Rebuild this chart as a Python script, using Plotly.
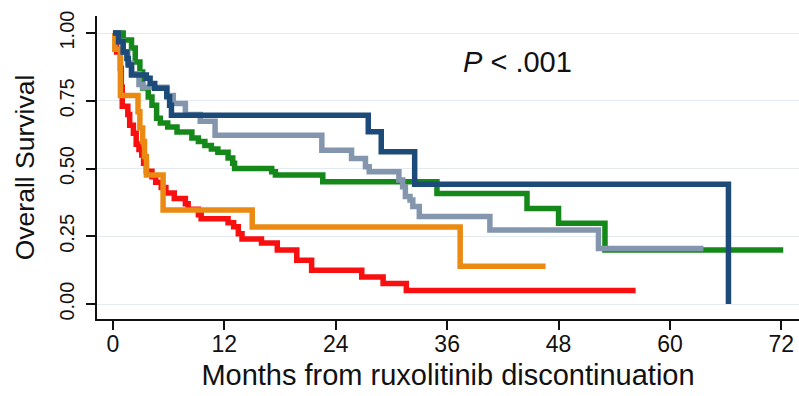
import plotly.graph_objects as go

# Kaplan-Meier step curves: (months, overall survival) at each step
months_red = [0, 0.4, 0.8, 0.9, 1.0, 1.6, 1.8, 2.2, 2.5, 2.8, 3.1, 3.3, 3.6, 4.2, 4.6, 5.2, 5.7,
              6.6, 7.8, 8.1, 9.2, 9.5, 12.4, 13.0, 13.5, 13.9, 16.0, 17.7, 19.8, 21.4, 26.8,
              29.1, 31.6, 56.3]
surv_red = [1.0, 0.93, 0.87, 0.80, 0.73, 0.70, 0.66, 0.63, 0.59, 0.57, 0.55, 0.52, 0.49, 0.47,
            0.45, 0.43, 0.41, 0.39, 0.37, 0.35, 0.33, 0.315, 0.30, 0.285, 0.26, 0.24, 0.225,
            0.20, 0.162, 0.125, 0.10, 0.076, 0.05, 0.05]

months_orange = [0, 0.2, 0.8, 2.7, 2.9, 3.2, 3.4, 3.6, 5.4, 15.0, 37.4, 46.6]
surv_orange = [1.0, 0.94, 0.77, 0.71, 0.65, 0.60, 0.545, 0.476, 0.347, 0.284, 0.14, 0.14]

months_green = [0, 1.1, 2.0, 2.4, 2.9, 3.2, 3.8, 4.2, 4.7, 5.1, 5.9, 6.9, 8.5, 9.2, 9.9, 10.6,
                11.3, 12.4, 12.9, 13.1, 17.1, 17.5, 22.6, 34.9, 44.6, 48.0, 53.0, 72.2]
surv_green = [1.0, 0.974, 0.945, 0.893, 0.856, 0.797, 0.764, 0.734, 0.686, 0.668, 0.653, 0.635,
              0.613, 0.60, 0.585, 0.572, 0.56, 0.539, 0.52, 0.50, 0.488, 0.476, 0.451, 0.408,
              0.353, 0.298, 0.20, 0.20]

months_gray = [0, 0.6, 1.1, 1.6, 2.0, 2.8, 3.2, 5.8, 6.5, 7.8, 9.4, 11.0, 22.5, 25.7, 27.2, 27.6,
               30.8, 31.2, 31.5, 32.0, 32.3, 33.0, 40.6, 52.3, 63.6]
surv_gray = [1.0, 0.97, 0.93, 0.89, 0.85, 0.81, 0.80, 0.77, 0.74, 0.70, 0.675, 0.623, 0.568,
             0.537, 0.507, 0.488, 0.458, 0.433, 0.397, 0.384, 0.36, 0.323, 0.273, 0.205, 0.205]

months_navy = [0, 0.6, 1.1, 1.5, 1.65, 2.0, 3.6, 4.0, 4.5, 5.8, 6.1, 6.3, 27.5, 28.9, 32.5, 66.3,
               66.3]
surv_navy = [1.0, 0.968, 0.93, 0.906, 0.882, 0.845, 0.833, 0.814, 0.796, 0.765, 0.734, 0.697,
             0.636, 0.562, 0.442, 0.442, 0.0]

x_ticks = [0, 12, 24, 36, 48, 60, 72]
y_ticks = [0, 0.25, 0.5, 0.75, 1.0]

series = [
    (months_red, surv_red, "#f81010"),
    (months_orange, surv_orange, "#ea8a12"),
    (months_green, surv_green, "#14891a"),
    (months_gray, surv_gray, "#8496ae"),
    (months_navy, surv_navy, "#1c4a79"),
]

fig = go.Figure()
for xs, ys, color in series:
    fig.add_trace(go.Scatter(
        x=xs, y=ys, mode="lines", line_shape="hv",
        line=dict(color=color, width=5.5), showlegend=False, hoverinfo="skip",
    ))

font_family = "Liberation Sans, Arial, sans-serif"

fig.add_annotation(
    x=43.6, y=0.893, xref="x", yref="y", text="<i>P</i> < .001", showarrow=False,
    font=dict(family=font_family, size=29, color="#111111"), xanchor="center", yanchor="middle",
)

fig.update_layout(
    width=799, height=396,
    margin=dict(l=97, r=0, t=16, b=77),
    paper_bgcolor="white", plot_bgcolor="white",
    font=dict(family=font_family, color="#111111"),
    xaxis=dict(
        range=[-1.72, 73.9], tickvals=x_ticks, ticktext=[str(v) for v in x_ticks],
        showgrid=False, zeroline=False, showline=True, linecolor="#111111", linewidth=1.5,
        ticks="outside", ticklen=9, tickwidth=1.5, tickcolor="#111111",
        tickfont=dict(size=23), ticklabelstandoff=-5,
        title=dict(text="Months from ruxolitinib discontinuation", font=dict(size=29), standoff=8),
    ),
    yaxis=dict(
        range=[-0.055, 1.063], tickvals=y_ticks, tickformat=".2f",
        showgrid=True, gridcolor="#e4eaf1", gridwidth=1, zeroline=False,
        showline=True, linecolor="#111111", linewidth=1.5,
        ticks="outside", ticklen=9, tickwidth=1.5, tickcolor="#111111",
        tickangle=-90, tickfont=dict(size=20), ticklabelstandoff=4,
        title=dict(text="Overall Survival", font=dict(size=26.5), standoff=14),
    ),
)

fig.write_html("out.html")
